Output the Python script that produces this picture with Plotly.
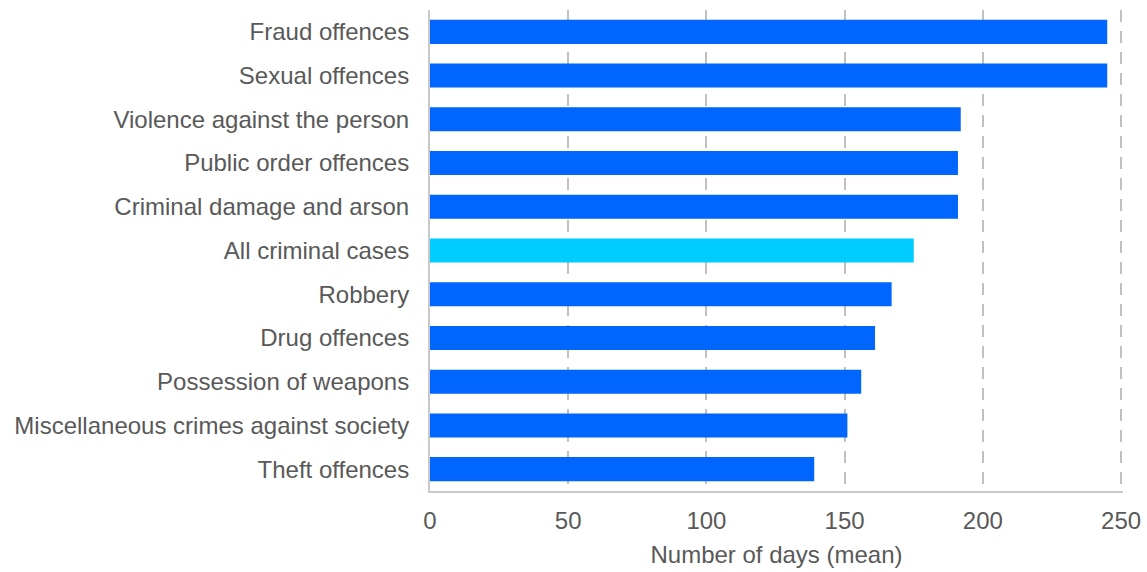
import plotly.graph_objects as go

categories = [
    "Fraud offences",
    "Sexual offences",
    "Violence against the person",
    "Public order offences",
    "Criminal damage and arson",
    "All criminal cases",
    "Robbery",
    "Drug offences",
    "Possession of weapons",
    "Miscellaneous crimes against society",
    "Theft offences",
]
mean_days = [245, 245, 192, 191, 191, 175, 167, 161, 156, 151, 139]
highlight = "All criminal cases"

bar_colors = ["#00CCFF" if c == highlight else "#0066FF" for c in categories]

fig = go.Figure(
    go.Bar(
        x=mean_days,
        y=categories,
        orientation="h",
        marker=dict(color=bar_colors, line=dict(width=0)),
        hoverinfo="x+y",
    )
)

font_color = "#595959"
fsize = 24

fig.update_layout(
    width=1147,
    height=572,
    margin=dict(l=430, r=24, t=10, b=81),
    paper_bgcolor="white",
    plot_bgcolor="white",
    bargap=0.45,
    showlegend=False,
    font=dict(family="Liberation Sans, Arial, sans-serif", size=fsize, color=font_color),
    xaxis=dict(
        # small headroom past 250 so the last dashed gridline is drawn
        range=[0, 250.7],
        tickvals=[0, 50, 100, 150, 200, 250],
        automargin=False,
        showgrid=True,
        gridcolor="#C0C0C0",
        gridwidth=2,
        griddash="12px,9px",
        zeroline=False,
        showline=True,
        linecolor="#C8C8C8",
        linewidth=2,
        ticks="",
        ticklabelstandoff=7,
        title=dict(text="Number of days (mean)", font=dict(size=fsize, color=font_color), standoff=13),
        tickfont=dict(size=fsize, color=font_color),
    ),
    yaxis=dict(
        categoryorder="array",
        categoryarray=categories[::-1],
        automargin=False,
        showgrid=False,
        showline=True,
        linecolor="#C8C8C8",
        linewidth=2,
        ticks="",
        ticklabelstandoff=14,
        tickfont=dict(size=fsize, color=font_color),
    ),
)

fig.write_html("out.html")
